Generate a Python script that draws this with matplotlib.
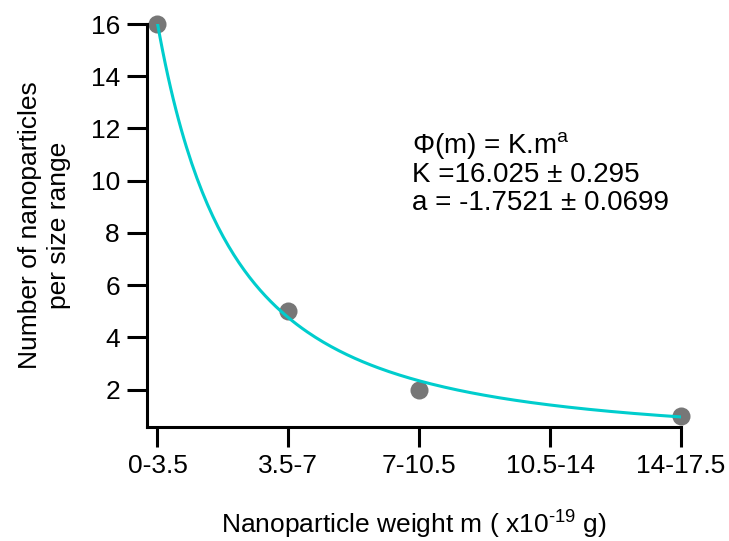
import matplotlib.pyplot as plt
import numpy as np

plt.rcParams['font.family'] = ['Liberation Sans', 'DejaVu Sans']
plt.rcParams['mathtext.fontset'] = 'custom'
plt.rcParams['mathtext.rm'] = 'Liberation Sans'
plt.rcParams['mathtext.it'] = 'Liberation Sans'

# data
size_ranges = ['0-3.5', '3.5-7', '7-10.5', '10.5-14', '14-17.5']
counts = [16, 5, 2, 1]
count_pos = [1, 2, 3, 5]
K = 16.025
K_err = 0.295
a = -1.7521
a_err = 0.0699

fig = plt.figure(figsize=(7.29, 5.41), dpi=100)
ax = fig.add_axes([147/729, 1-427/541, (681-147)/729, (427-24)/541])

# fitted power law
m = np.linspace(1, 5, 200)
ax.plot(m, K * m**a, color='#00CDCD', lw=2.2, zorder=3)
ax.plot(count_pos, counts, 'o', color='#777777', ms=13, mec='none', zorder=2, clip_on=False)

ax.set_xlim(0.92, 5)
ax.set_ylim(0.57, 16)
ax.set_xticks(range(1, 6))
ax.set_xticklabels(size_ranges)
ax.set_yticks(range(2, 17, 2))

for s in ['top', 'right']:
    ax.spines[s].set_visible(False)
for s in ['left', 'bottom']:
    ax.spines[s].set_linewidth(2.2)
ax.tick_params(direction='out', length=14.5, width=2.2, labelsize=19, pad=5)

ax.set_ylabel('Number of nanoparticles\nper size range', fontsize=19, labelpad=14, linespacing=1.25)
ax.set_xlabel('Nanoparticle weight m ( x10$^{\\text{-}19}$ g)', fontsize=19, labelpad=22)

ax.text(2.947, 11.07, 'Φ(m) = K.m$^{\\mathrm{a}}$', fontsize=20, va='baseline', ha='left')
ax.text(2.947, 9.96, 'K =%.3f ± %.3f' % (K, K_err), fontsize=20, va='baseline', ha='left')
ax.text(2.947, 8.88, 'a = %.4f ± %.4f' % (a, a_err), fontsize=20, va='baseline', ha='left')

fig.savefig('out.png', dpi=100)
